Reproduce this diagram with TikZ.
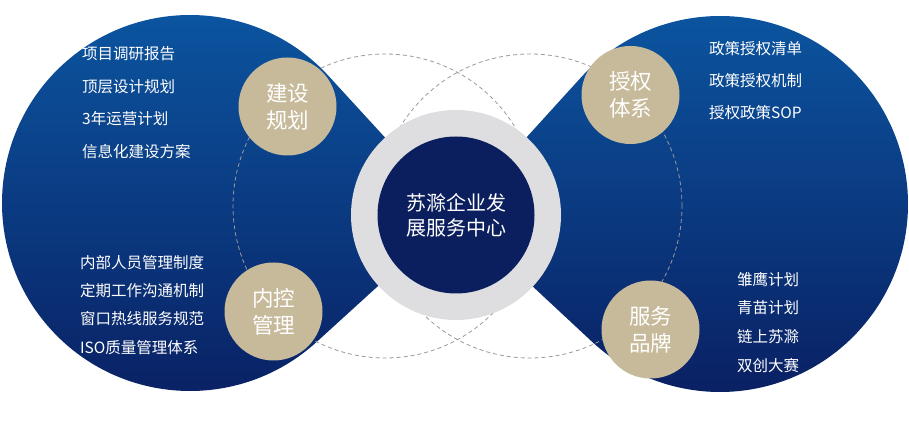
\documentclass[tikz,border=0pt]{standalone}
\usepackage{fontspec}
\setmainfont{Noto Sans CJK SC}
\usepackage{xcolor}
\usepackage{tikz}
\definecolor{blobtop}{HTML}{0B57A2}
\definecolor{blobbot}{HTML}{0A1F62}
\definecolor{ringgray}{HTML}{DEDEE0}
\definecolor{hubnavy}{HTML}{0B1F5E}
\definecolor{badgetan}{HTML}{C7BA9B}
\definecolor{orbitgray}{HTML}{9A9A9A}

\begin{document}
\begin{tikzpicture}[
  x=1pt, y=1pt,
  blob/.style={top color=blobtop, bottom color=blobbot},
  orbit/.style={draw=orbitgray, dash pattern=on 4pt off 3pt, line width=0.8pt},
  ringbox/.style={circle, fill=ringgray, minimum size=210pt, inner sep=0pt},
  hub/.style={circle, fill=hubnavy, minimum size=157pt, inner sep=0pt,
              text=white, align=center, font=\fontsize{20}{25}\selectfont},
  badge/.style={circle, fill=badgetan, minimum size=98pt, inner sep=0pt,
                text=white, align=center, font=\fontsize{21.5}{27}\selectfont},
  item/.style={anchor=west, inner sep=0pt, text=white,
               font=\fontsize{15.5}{18}\selectfont}
]
\useasboundingbox (0,0) rectangle (909,441);

\coordinate (tip)   at (456,226);
\coordinate (lc)    at (190,238);
\coordinate (rc)    at (720,237);
\coordinate (orbL)  at (385,235);
\coordinate (orbR)  at (530,235);

% two blue lobes
\path[blob] ([shift={(42.5:188)}]lc) -- (tip) -- ([shift={(-47.66:188)}]lc)
  arc[start angle=-47.66, end angle=-317.5, radius=188] -- cycle;
\path[blob] ([shift={(227.03:188)}]rc) -- (tip) -- ([shift={(137.75:188)}]rc)
  arc[start angle=137.75, end angle=-132.97, radius=188] -- cycle;

% dashed orbits
\draw[orbit] (orbL) circle[radius=152];
\draw[orbit] (orbR) circle[radius=152];

% centre
\node[ringbox] (ring) at (tip) {};
\node[hub] (center) at (tip) {苏滁企业发\\展服务中心};

% four badges
\node[badge] (plan)    at (287.5,334.5) {建设\\规划};
\node[badge] (auth)    at (630.5,346)   {授权\\体系};
\node[badge] (control) at (273.5,129.5) {内控\\管理};
\node[badge] (brand)   at (650.5,111.5) {服务\\品牌};

% lists
\node[item] (plan1) at (82,387) {项目调研报告};
\node[item] (plan2) at (82,354) {顶层设计规划};
\node[item] (plan3) at (82,322) {3年运营计划};
\node[item] (plan4) at (82,289) {信息化建设方案};

\node[item] (ctrl1) at (80,178) {内部人员管理制度};
\node[item] (ctrl2) at (80,150) {定期工作沟通机制};
\node[item] (ctrl3) at (80,122) {窗口热线服务规范};
\node[item] (ctrl4) at (80,93)  {ISO质量管理体系};

\node[item] (auth1) at (709,392) {政策授权清单};
\node[item] (auth2) at (709,360) {政策授权机制};
\node[item] (auth3) at (709,328) {授权政策SOP};

\node[item] (brand1) at (737,161) {雏鹰计划};
\node[item] (brand2) at (737,133) {青苗计划};
\node[item] (brand3) at (737,104) {链上苏滁};
\node[item] (brand4) at (737,75)  {双创大赛};
\end{tikzpicture}
\end{document}
